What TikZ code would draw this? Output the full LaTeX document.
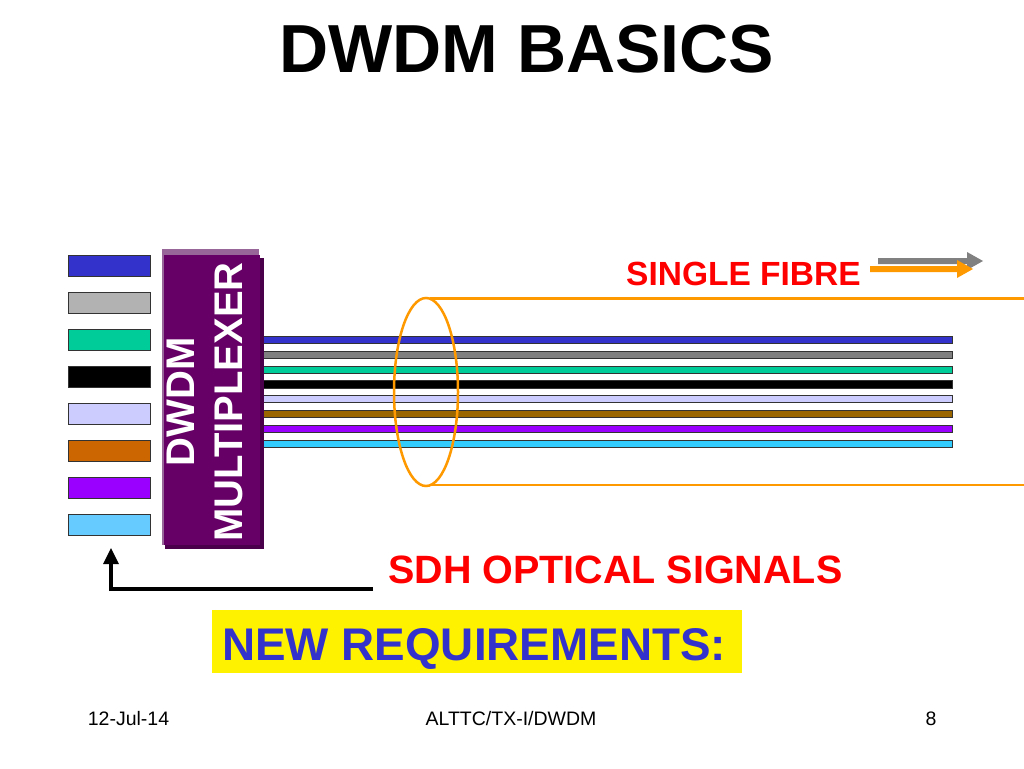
\documentclass[tikz,border=0pt]{standalone}
\usepackage{fontspec}
\setmainfont{Liberation Sans}
\begin{document}
\begin{tikzpicture}[x=1pt,y=-1pt,
  chip/.style={draw=black!80,line width=1pt},
  fib/.style={draw=black!80,line width=0.8pt},
  lbl/.style={anchor=base west,inner sep=0pt,font=\bfseries\fontsize{#1}{#1}\selectfont},
  foot/.style={anchor=base,inner sep=0pt,font=\fontsize{19.5}{19.5}\selectfont},
  tube/.style={draw=orange!90!yellow,line width=2.5pt}
]
\definecolor{cblue}{HTML}{3333CC}
\definecolor{cgrayL}{HTML}{B2B2B2}
\definecolor{cgrayF}{HTML}{808080}
\definecolor{cgreen}{HTML}{00CC99}
\definecolor{clav}{HTML}{CCCCFF}
\definecolor{cbrownL}{HTML}{CC6600}
\definecolor{cbrownF}{HTML}{996600}
\definecolor{cpurp}{HTML}{9900FF}
\definecolor{ccyanL}{HTML}{66CCFF}
\definecolor{ccyanF}{HTML}{33CCFF}
\definecolor{mux}{HTML}{660066}
\definecolor{muxL}{HTML}{996699}
\definecolor{muxD}{HTML}{4A004A}
\definecolor{corange}{HTML}{FF9900}
\useasboundingbox[fill=white] (0,0) rectangle (1024,768);
% title
\node[anchor=base,inner sep=0pt,font=\bfseries\fontsize{68}{68}\selectfont] (title) at (527,72) {DWDM BASICS};
% left colour chips
\foreach \c [count=\i from 0] in {cblue,cgrayL,cgreen,black,clav,cbrownL,cpurp,ccyanL}{
  \path[chip,fill=\c] (68,{255+\i*37}) rectangle (150,{276+\i*37});
}
% fibres
\foreach \c/\y/\h [count=\i] in {cblue/339.5/3.5,cgrayF/354.5/3.5,cgreen/369.5/3.5,black/384/4,clav/399/3.5,cbrownF/413.5/3.5,cpurp/428.5/3.5,ccyanF/443.5/3.5}{
  \path[fib,fill=\c] (258,{\y-\h}) rectangle (952,{\y+\h});
}
% multiplexer box
\fill[muxD] (165,258) rectangle (264,549);
\fill[muxL] (162,249) rectangle (259,255);
\fill[muxL] (162,249) rectangle (164,545);
\fill[mux] (164,255) rectangle (260,545);
\node[rotate=90,align=center,text=white,inner sep=0pt,font=\bfseries\fontsize{40}{48}\selectfont] (muxtext) at (205,402) {DWDM\\MULTIPLEXER};
% single fibre tube
\draw[tube,draw=corange] (426,392) ellipse [x radius=32, y radius=94];
\coordinate (ttop) at (430,298.5);
\coordinate (tbot) at (430,485);
\coordinate (tend1) at (1024,298.5);
\coordinate (tend2) at (1024,485);
\draw[tube,draw=corange] (ttop) -- (tend1);
\draw[tube,draw=corange] (tbot) -- (tend2);
% labels
\node[lbl=33.5,text=red] (single) at (626,285) {SINGLE FIBRE};
\fill[cgrayF] (878,258) -- (967,258) -- (967,252) -- (983,261) -- (967,270) -- (967,264) -- (878,264) -- cycle;
\fill[corange] (870,266) -- (957,266) -- (957,260) -- (973,269) -- (957,278) -- (957,272) -- (870,272) -- cycle;
\node[lbl=39.5,text=red] (sdh) at (388,583) {SDH OPTICAL SIGNALS};
% black return arrow
\coordinate (aend) at (373,589);
\coordinate (acorner) at (111,589);
\coordinate (atip) at (111,548);
\draw[line width=4.5pt] (aend) -- (acorner);
\draw[line width=4pt] (111,591) -- (111,560);
\fill (103,564) -- (111,548) -- (119,564) -- cycle;
% new requirements
\fill[yellow] (212,610) rectangle (742,673);
\node[lbl=45.8,text=cblue] (newreq) at (222,660) {NEW REQUIREMENTS:};
% footer
\node[foot] (date) at (128.5,725) {12-Jul-14};
\node[foot] (center) at (511,725) {ALTTC/TX-I/DWDM};
\node[foot] (page) at (931,725) {8};
\end{tikzpicture}
\end{document}
